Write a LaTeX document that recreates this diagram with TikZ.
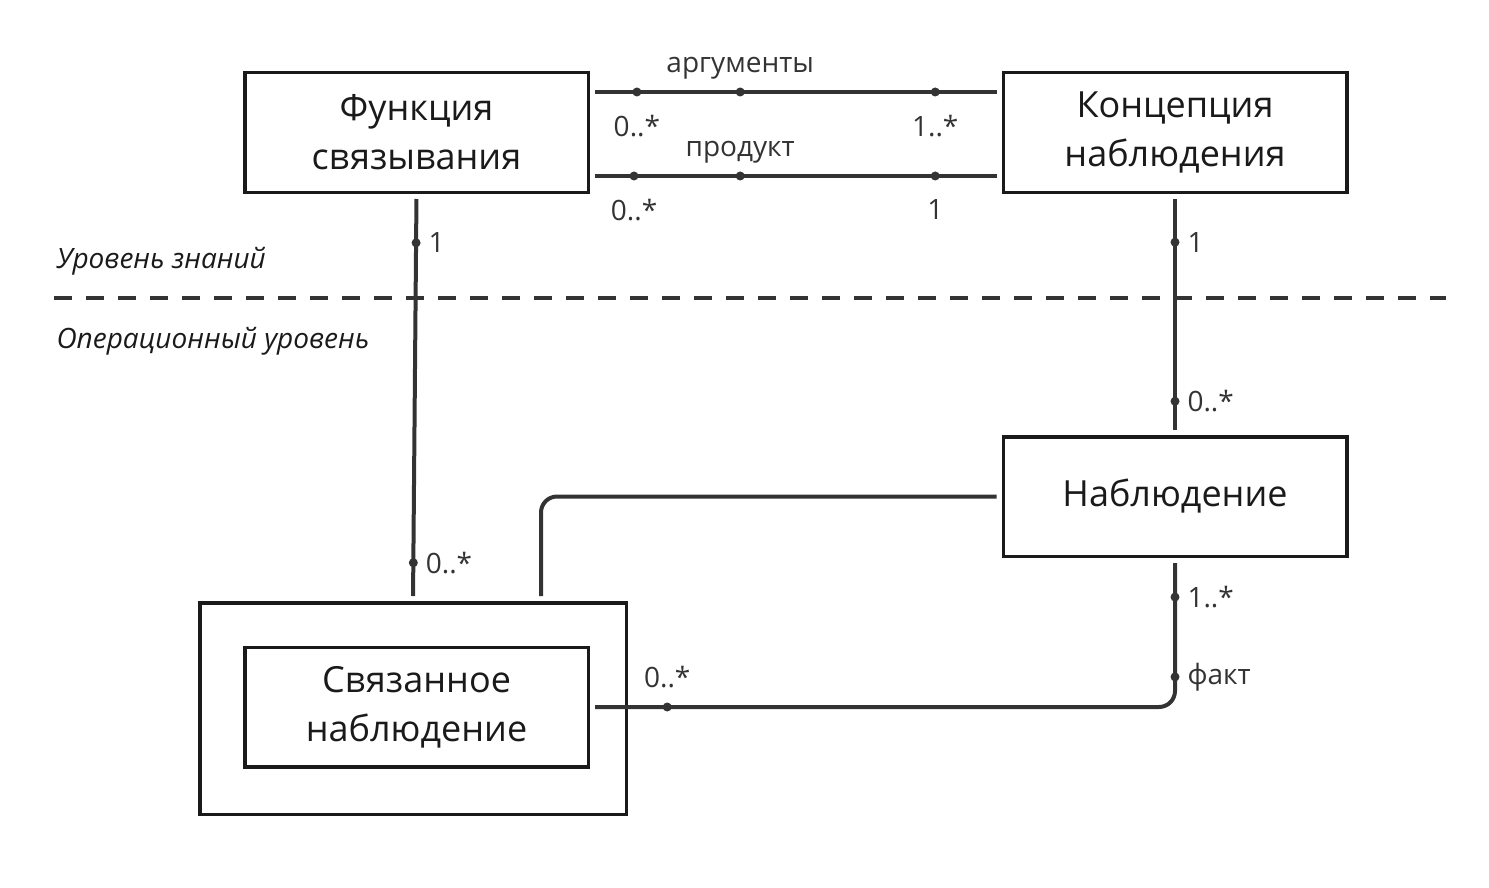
\documentclass[tikz,border=0pt]{standalone}
\usepackage{fontspec}
\setmainfont{Open Sans}
\usetikzlibrary{positioning,calc}
\definecolor{ink}{HTML}{1A1A1A}
\definecolor{wire}{HTML}{333333}

\begin{document}
\begin{tikzpicture}[x=1pt, y=-1pt,
    entity/.style={draw=ink, line width=3.5pt, minimum width=343.5pt, minimum height=119.5pt,
      align=center, text=ink, font=\fontsize{36}{49}\selectfont},
    assoc/.style={draw=wire, line width=4pt, shorten <=5pt, shorten >=5pt},
    mult/.style={circle, fill=wire, inner sep=0pt, minimum size=9pt},
    every label/.style={font=\fontsize{28}{32}\selectfont, text=wire, inner sep=4pt},
    level/.style={anchor=west, text=ink, font=\fontsize{28}{32}\selectfont\itshape}]
  \useasboundingbox (0,0) rectangle (1489,888);

  \node[entity] (fs) at (416.5,132.5) {Функция\\связывания};
  \node[entity] (kn) at (1175,132.5) {Концепция\\наблюдения};
  \node[entity] (nab) at (1175,496.5) {Наблюдение};
  \node[entity, minimum width=426.5pt, minimum height=211.5pt] (frame) at (413,708.5) {};
  \node[entity] (sn) at (416.5,707) {Связанное\\наблюдение};

  % knowledge / operational split
  \draw[wire, line width=4pt, dash pattern=on 18pt off 14pt] (54,298) -- (1446,298);
  \node[level] (know) at (53,261) {Уровень знаний};
  \node[level] (oper) at (53,341) {Операционный уровень};

  \draw[assoc] ([yshift=40.5pt]fs.east) -- ([yshift=40.5pt]kn.west)
    node[mult, pos=0.114, label={[label distance=11pt]below:{0..*}}] {}
    node[mult, pos=0.365, label=above:{аргументы}] {}
    node[mult, pos=0.839, label={[label distance=11pt]below:{1..*}}] {};
  \draw[assoc] ([yshift=-43.5pt]fs.east) -- ([yshift=-43.5pt]kn.west)
    node[mult, pos=0.107, label={[label distance=11pt]below:{0..*}}] {}
    node[mult, pos=0.365, label=above:{продукт}] {}
    node[mult, pos=0.839, label={[label distance=11pt]below:{1}}] {};

  \draw[assoc] (fs.south) -- (frame.north)
    node[mult, pos=0.12, label=right:{1}] {}
    node[mult, pos=0.906, label=right:{0..*}] {};
  \draw[assoc] (kn.south) -- (nab.north)
    node[mult, pos=0.2, label=right:{1}] {}
    node[mult, pos=0.86, label=right:{0..*}] {};

  \draw[assoc, rounded corners=16pt] (nab.west) -| ([xshift=-87pt]frame.north east);
  \draw[assoc, rounded corners=16pt] (nab.south) |- (sn.east)
    node[mult, pos=0.131, label=right:{1..*}] {}
    node[mult, pos=0.399, label=right:{факт}] {}
    node[mult, pos=0.934, label={[label distance=7pt]above:{0..*}}] {};
\end{tikzpicture}
\end{document}
